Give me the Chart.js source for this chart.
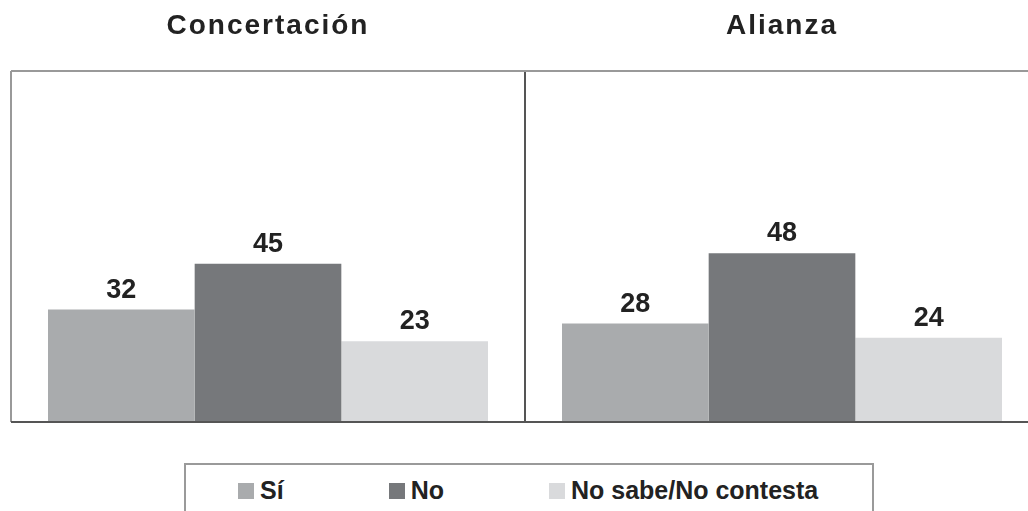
<!DOCTYPE html>
<html>
<head>
<meta charset="utf-8">
<title>Concertación / Alianza</title>
<script src="https://cdn.jsdelivr.net/npm/chart.js@4"></script>
<style>
  html, body { margin: 0; padding: 0; background: #fff; overflow: hidden; }
  #wrap { position: relative; width: 1050px; height: 511px; }
  #legend {
    position: absolute; left: 184px; top: 463px; width: 686px; height: 80px;
    border: 2px solid #9a9a9a; background: #fff;
  }
  #legend ul {
    list-style: none; margin: 0; padding: 0 0 0 52px;
    display: flex; gap: 105px; position: relative; top: 13px;
  }
  #legend li {
    display: flex; align-items: center;
    font: bold 25px "Liberation Sans", Arial, sans-serif; color: #222; line-height: 1;
  }
  #legend li span.box { width: 16px; height: 16px; margin-right: 6px; display: inline-block; }
</style>
</head>
<body>
<div id="wrap">
  <canvas id="chart" width="1050" height="511"></canvas>
  <div id="legend"></div>
</div>
<script>
const categories = ["Concertación", "Alianza"];
const seriesNames = ["Sí", "No", "No sabe/No contesta"];
const si = [32, 28];
const no = [45, 48];
const noSabe = [23, 24];
const barColors = ["#a9abad", "#76787b", "#d9dadc"];

// the panel titles are a bit spread out in the original
const spacing = {
  id: "spacing",
  beforeDraw(chart) { chart.ctx.letterSpacing = "2px"; },
  beforeDatasetsDraw(chart) { chart.ctx.letterSpacing = "0px"; },
};

const valueLabels = {
  id: "valueLabels",
  afterDatasetsDraw(chart) {
    const ctx = chart.ctx;
    ctx.save();
    ctx.font = 'bold 27px "Liberation Sans", Arial, sans-serif';
    ctx.fillStyle = "#222";
    ctx.textAlign = "center";
    ctx.textBaseline = "alphabetic";
    chart.data.datasets.forEach((ds, i) => {
      chart.getDatasetMeta(i).data.forEach((bar, j) => {
        ctx.fillText(ds.data[j], bar.x, bar.y - 12);
      });
    });
    ctx.restore();
  },
};

const chart = new Chart(document.getElementById("chart"), {
  type: "bar",
  data: {
    labels: categories,
    datasets: [si, no, noSabe].map((d, i) => ({
      label: seriesNames[i],
      data: d,
      backgroundColor: barColors[i],
      borderWidth: 0,
      categoryPercentage: 0.856,
      barPercentage: 1,
    })),
  },
  options: {
    responsive: false,
    animation: false,
    layout: { padding: { left: 11, right: 11, top: -19, bottom: 89 } },
    plugins: {
      legend: { display: false },
      tooltip: { enabled: false },
    },
    scales: {
      x: {
        position: "top",
        border: { display: false },
        grid: {
          offset: true,
          drawTicks: false,
          lineWidth: 2,
          color: (c) => (c.index === 1 ? "#555" : "#999"),
        },
        ticks: {
          padding: 28,
          color: "#222",
          font: { family: '"Liberation Sans", Arial, sans-serif', size: 28, weight: "bold" },
        },
      },
      y: {
        min: 0,
        max: 100,
        border: { display: false },
        grid: {
          drawTicks: false,
          lineWidth: 2,
          color: (c) => (c.tick && c.tick.value === 0 ? "#555" : "#999"),
        },
        ticks: { display: false, stepSize: 100 },
      },
    },
  },
  plugins: [spacing, valueLabels],
});

// legend as html, built from the chart's datasets
const ul = document.createElement("ul");
chart.data.datasets.forEach((ds) => {
  const li = document.createElement("li");
  const box = document.createElement("span");
  box.className = "box";
  box.style.background = ds.backgroundColor;
  li.appendChild(box);
  li.appendChild(document.createTextNode(ds.label));
  ul.appendChild(li);
});
document.getElementById("legend").appendChild(ul);
</script>
</body>
</html>
